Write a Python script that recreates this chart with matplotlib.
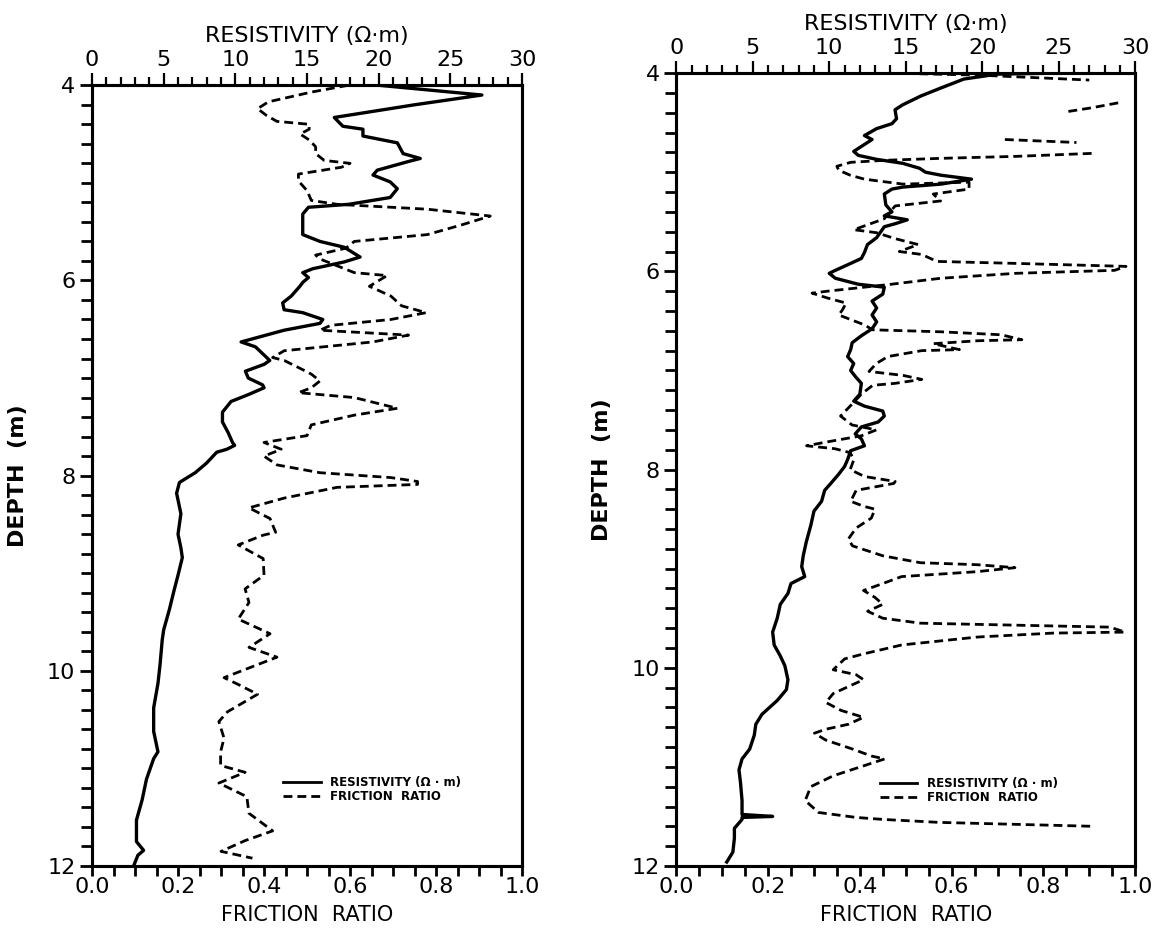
import numpy as np
import matplotlib
matplotlib.use("Agg")
import matplotlib.pyplot as plt
from matplotlib.lines import Line2D
from matplotlib.ticker import MultipleLocator

plt.rcParams['font.family'] = ['DejaVu Sans']

# ---- left profile: resistivity (ohm*m) vs depth (m)
res1_depth = [4.00, 4.10, 4.20, 4.33, 4.42, 4.45, 4.52, 4.59, 4.70, 4.75, 4.78, 4.87, 4.92, 4.99,
              5.06, 5.15, 5.22, 5.25, 5.32, 5.53, 5.60, 5.66, 5.76, 5.81, 5.88, 5.92, 5.97,
              6.02, 6.06, 6.16, 6.23, 6.30, 6.33, 6.40, 6.44, 6.51, 6.63, 6.68, 6.75, 6.82,
              6.86, 6.93, 7.00, 7.07, 7.10, 7.17, 7.24, 7.35, 7.45, 7.56, 7.66, 7.69, 7.73,
              7.76, 7.87, 7.97, 8.07, 8.18, 8.39, 8.60, 8.74, 8.84, 9.02, 9.19, 9.37, 9.58,
              9.68, 9.93, 10.13, 10.38, 10.62, 10.83, 10.90, 11.11, 11.32, 11.53, 11.75,
              11.84, 11.89, 12.00]
res1_val = [20.0, 27.2, 22.5, 16.9, 17.5, 18.9, 18.9, 21.3, 21.7, 22.9, 22.1, 19.9, 19.6, 20.8,
            21.3, 20.8, 17.9, 15.1, 14.7, 14.7, 15.9, 17.6, 18.7, 17.6, 15.4, 14.7, 15.1,
            14.7, 14.5, 13.9, 13.3, 13.4, 14.7, 16.1, 15.9, 13.4, 10.4, 11.4, 11.9, 12.4,
            12.0, 10.7, 10.9, 11.9, 12.0, 10.9, 9.7, 9.1, 9.1, 9.5, 9.8, 9.95, 9.4,
            8.7, 8.0, 7.2, 6.1, 5.9, 6.2, 6.0, 6.2, 6.3, 6.0, 5.7, 5.4, 5.0,
            4.9, 4.75, 4.6, 4.3, 4.3, 4.6, 4.3, 3.8, 3.5, 3.1, 3.1,
            3.6, 3.2, 2.9]

# ---- left profile: friction ratio vs depth
fr1_depth = [4.00, 4.07, 4.17, 4.24, 4.31, 4.37, 4.40, 4.45, 4.50, 4.56, 4.63, 4.70, 4.77,
             4.80, 4.84, 4.91, 4.98, 5.08, 5.18, 5.22, 5.27, 5.34, 5.43, 5.53, 5.60, 5.67,
             5.74, 5.78, 5.85, 5.92, 5.95, 6.06, 6.16, 6.26, 6.33, 6.40, 6.46, 6.51, 6.56,
             6.63, 6.72, 6.79, 6.82, 6.91, 6.96, 7.03, 7.10, 7.15, 7.20, 7.31, 7.38, 7.48,
             7.59, 7.66, 7.73, 7.80, 7.89, 7.97, 8.02, 8.06, 8.09, 8.12, 8.23, 8.33, 8.44,
             8.58, 8.61, 8.71, 8.85, 9.02, 9.16, 9.30, 9.47, 9.62, 9.76, 9.86, 10.00, 10.07,
             10.14, 10.24, 10.42, 10.52, 10.69, 10.83, 10.97, 11.04, 11.15, 11.29, 11.46,
             11.64, 11.74, 11.85, 11.92]
fr1_val = [0.596, 0.51, 0.41, 0.385, 0.406, 0.43, 0.505, 0.505, 0.484, 0.505, 0.52, 0.52, 0.54,
           0.60, 0.58, 0.48, 0.48, 0.50, 0.51, 0.57, 0.78, 0.926, 0.86, 0.78, 0.61, 0.59,
           0.52, 0.53, 0.57, 0.61, 0.686, 0.645, 0.695, 0.72, 0.777, 0.695, 0.555, 0.53, 0.736,
           0.653, 0.447, 0.42, 0.447, 0.488, 0.51, 0.53, 0.51, 0.48, 0.61, 0.71, 0.61, 0.51,
           0.50, 0.40, 0.44, 0.40, 0.43, 0.53, 0.695, 0.757, 0.757, 0.57, 0.447, 0.365, 0.414,
           0.427, 0.398, 0.34, 0.398, 0.40, 0.356, 0.365, 0.34, 0.414, 0.365, 0.43, 0.348, 0.307,
           0.34, 0.385, 0.315, 0.295, 0.307, 0.299, 0.299, 0.356, 0.295, 0.36, 0.365,
           0.42, 0.356, 0.30, 0.373]

# ---- right profile: resistivity vs depth
res2_depth = [4.00, 4.01, 4.06, 4.15, 4.23, 4.32, 4.37, 4.46, 4.51, 4.56, 4.63, 4.67, 4.74,
              4.79, 4.83, 4.87, 4.91, 4.96, 5.00, 5.03, 5.07, 5.12, 5.15, 5.17, 5.22, 5.33,
              5.40, 5.44, 5.48, 5.52, 5.55, 5.66, 5.73, 5.81, 5.87, 5.92, 5.99, 6.02, 6.07,
              6.13, 6.16, 6.23, 6.30, 6.37, 6.44, 6.51, 6.58, 6.65, 6.72, 6.79, 6.86, 6.93,
              7.00, 7.06, 7.13, 7.24, 7.31, 7.36, 7.41, 7.46, 7.52, 7.57, 7.64, 7.69, 7.76,
              7.81, 7.90, 7.97, 8.05, 8.14, 8.21, 8.32, 8.42, 8.56, 8.73, 8.87, 8.98, 9.08,
              9.15, 9.25, 9.36, 9.50, 9.64, 9.77, 9.88, 9.98, 10.12, 10.22, 10.33, 10.47,
              10.57, 10.68, 10.82, 10.92, 11.03, 11.16, 11.34, 11.48, 11.50, 11.51, 11.53,
              11.62, 11.72, 11.86, 11.96]
res2_val = [24.9, 21.0, 18.8, 17.3, 16.0, 14.8, 14.3, 14.4, 14.1, 13.1, 12.3, 12.8, 12.1,
            11.6, 11.9, 13.1, 14.8, 15.9, 16.3, 17.3, 19.3, 17.3, 14.8, 14.1, 13.6, 13.7,
            14.1, 13.6, 15.1, 14.3, 13.6, 13.1, 12.5, 12.3, 12.1, 11.4, 10.4, 10.0, 10.4,
            11.9, 13.6, 13.5, 12.8, 13.1, 12.8, 13.1, 12.8, 12.1, 11.5, 11.4, 11.2, 11.6,
            11.4, 11.7, 12.1, 12.0, 11.6, 12.3, 13.5, 13.6, 13.2, 12.1, 11.7, 12.1, 12.3,
            11.4, 11.2, 11.0, 10.6, 10.1, 9.7, 9.5, 9.0, 8.8, 8.5, 8.3, 8.2, 8.4,
            7.5, 7.3, 6.8, 6.6, 6.3, 6.4, 6.8, 7.1, 7.3, 7.2, 6.6, 5.6,
            5.2, 5.1, 4.8, 4.3, 4.1, 4.2, 4.3, 4.3, 6.3, 4.3, 4.3,
            3.8, 3.8, 3.7, 3.3]

# ---- right profile: friction ratio vs depth (NaN = gaps where trace leaves the plot)
fr2_depth = [4.00, 4.02, 4.07, np.nan, 4.30, 4.35, 4.39, np.nan, 4.67, 4.70, np.nan,
             4.81, 4.84, 4.86, 4.88, 4.90, 4.94, 4.98, 5.03, 5.07, 5.12, 5.10, 5.17, 5.22,
             5.29, 5.34, 5.47, 5.58, 5.61, 5.67, 5.73, 5.80, 5.83, 5.90, 5.92, 5.95, 5.99,
             6.02, 6.07, 6.13, 6.20, 6.22, 6.27, 6.32, 6.39, 6.44, 6.54, 6.59, 6.61, 6.64,
             6.69, 6.70, 6.73, 6.79, 6.80, 6.86, 6.93, 7.01, 7.05, 7.09, 7.13, 7.15, 7.24,
             7.34, 7.46, 7.55, 7.60, 7.66, 7.72, 7.76, 7.79, 7.83, 7.90, 8.00, 8.07, 8.12,
             8.14, 8.21, 8.32, 8.37, 8.40, 8.49, 8.59, 8.70, 8.77, 8.87, 8.94, 8.96, 8.99,
             9.03, 9.08, 9.15, 9.22, 9.29, 9.36, 9.43, 9.50, 9.55, 9.57, 9.59, 9.64, 9.65,
             9.69, 9.77, 9.86, 9.91, 10.02, 10.07, 10.12, 10.19, 10.26, 10.35, 10.43, 10.50,
             10.57, 10.62, 10.66, 10.73, 10.82, 10.89, 10.92, 10.99, 11.09, 11.20, 11.34,
             11.46, 11.51, 11.53, 11.56, 11.58, 11.60]
fr2_val = [0.469, 0.658, 0.90, np.nan, 0.963, 0.905, 0.85, np.nan, 0.716, 0.872, np.nan,
           0.905, 0.74, 0.576, 0.453, 0.38, 0.35, 0.354, 0.379, 0.41, 0.494, 0.638, 0.638, 0.56,
           0.576, 0.477, 0.453, 0.387, 0.436, 0.477, 0.527, 0.486, 0.535, 0.568, 0.74, 0.98, 0.955,
           0.74, 0.576, 0.469, 0.33, 0.296, 0.33, 0.37, 0.362, 0.354, 0.41, 0.428, 0.576, 0.708,
           0.753, 0.658, 0.56, 0.617, 0.535, 0.461, 0.436, 0.42, 0.494, 0.535, 0.477, 0.428, 0.403,
           0.383, 0.358, 0.383, 0.436, 0.403, 0.33, 0.284, 0.346, 0.379, 0.387, 0.379, 0.41, 0.477,
           0.474, 0.392, 0.38, 0.408, 0.433, 0.425, 0.392, 0.375, 0.384, 0.45, 0.532, 0.656, 0.738,
           0.656, 0.491, 0.45, 0.408, 0.433, 0.45, 0.417, 0.45, 0.532, 0.738, 0.945, 0.978, 0.821,
           0.656, 0.491, 0.408, 0.367, 0.342, 0.392, 0.408, 0.375, 0.342, 0.326, 0.359, 0.408,
           0.375, 0.326, 0.301, 0.326, 0.384, 0.425, 0.454, 0.408, 0.342, 0.293, 0.281,
           0.31, 0.392, 0.45, 0.573, 0.738, 0.912]

depth_ticks = [4, 6, 8, 10, 12]
fr_ticks = [0.0, 0.2, 0.4, 0.6, 0.8, 1.0]
res_ticks = [0, 5, 10, 15, 20, 25, 30]

DASH = (0, (3.2, 1.8))
LW = 2.0
FS = 16


def draw_panel(ax, res_d, res_v, fr_d, fr_v, legend_anchor):
    ax.set_ylim(12, 4)
    ax.set_xlim(0, 1)
    ax.plot(fr_v, fr_d, color='black', lw=LW, linestyle=DASH)
    ax.set_yticks(depth_ticks)
    ax.yaxis.set_minor_locator(MultipleLocator(0.2))
    ax.set_xticks(fr_ticks)
    ax.xaxis.set_minor_locator(MultipleLocator(0.05))
    ax.set_xticklabels(['%.1f' % t for t in fr_ticks])
    ax.tick_params(axis='both', which='both', direction='out', width=2,
                   labelsize=FS, right=False, top=False)
    ax.tick_params(axis='y', which='major', length=9, pad=3)
    ax.tick_params(axis='y', which='minor', length=8)
    ax.tick_params(axis='x', which='both', length=7, pad=1)
    ax.set_xlabel('FRICTION  RATIO', fontsize=15, labelpad=6)
    ax.set_ylabel('DEPTH  (m)', fontsize=FS, fontweight='bold', labelpad=14)
    for s in ax.spines.values():
        s.set_linewidth(2.2)

    top = ax.twiny()
    top.set_xlim(0, 30)
    top.plot(res_v, res_d, color='black', lw=2.4, solid_joinstyle='round')
    top.set_xticks(res_ticks)
    top.xaxis.set_minor_locator(MultipleLocator(1))
    top.tick_params(axis='x', which='both', direction='out', width=1.6, labelsize=FS, pad=2)
    top.tick_params(axis='x', which='major', length=9)
    top.tick_params(axis='x', which='minor', length=6)
    top.set_xlabel('RESISTIVITY (\u03a9\u00b7m)', fontsize=FS, labelpad=6)
    for s in top.spines.values():
        s.set_linewidth(2.2)

    handles = [Line2D([], [], color='black', lw=2.0),
               Line2D([], [], color='black', lw=2.0, linestyle=DASH)]
    ax.legend(handles, ['RESISTIVITY (\u03a9 \u00b7 m)', 'FRICTION  RATIO'],
              loc='center left', bbox_to_anchor=legend_anchor, frameon=False,
              handlelength=3.2, handletextpad=0.8, labelspacing=0.1,
              prop={'weight': 'bold', 'size': 8.5})


fig = plt.figure(figsize=(11.56, 9.35), dpi=100, facecolor='white')
ax1 = fig.add_axes([0.0796, 0.0738, 0.372, 0.835])
ax2 = fig.add_axes([0.585, 0.0738, 0.397, 0.848])

draw_panel(ax1, res1_depth, res1_val, fr1_depth, fr1_val, (0.42, 0.098))
draw_panel(ax2, res2_depth, res2_val, fr2_depth, fr2_val, (0.42, 0.095))

fig.savefig('out.png', dpi=100, facecolor='white')
